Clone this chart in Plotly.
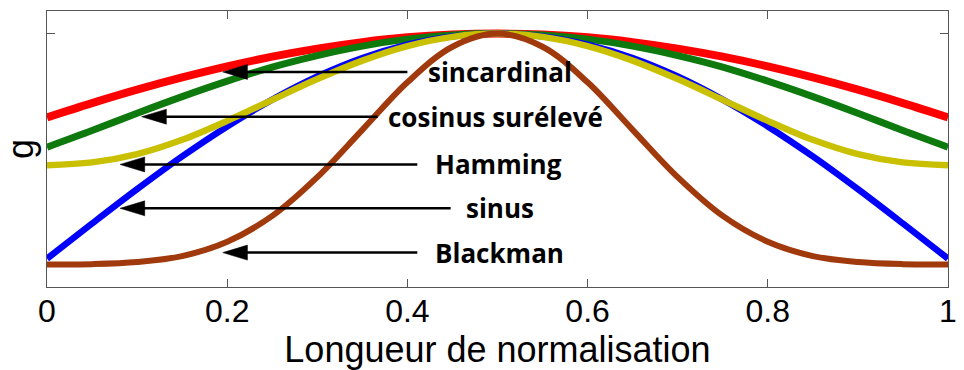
import plotly.graph_objects as go

# ---- data ----
x = [0.00, 0.05, 0.10, 0.15, 0.20, 0.25, 0.30, 0.35, 0.40, 0.45, 0.50,
     0.55, 0.60, 0.65, 0.70, 0.75, 0.80, 0.85, 0.90, 0.95, 1.00]

sincardinal = [0.637, 0.699, 0.757, 0.810, 0.858, 0.900, 0.935, 0.963, 0.984, 0.996, 1.000,
               0.996, 0.984, 0.963, 0.935, 0.900, 0.858, 0.810, 0.757, 0.699, 0.637]
cosinus_sureleve = [0.508, 0.580, 0.655, 0.727, 0.794, 0.855, 0.905, 0.946, 0.976, 0.994, 1.000,
                    0.994, 0.976, 0.946, 0.905, 0.855, 0.794, 0.727, 0.655, 0.580, 0.508]
hamming = [0.430, 0.442, 0.478, 0.540, 0.622, 0.713, 0.803, 0.883, 0.946, 0.986, 1.000,
           0.986, 0.946, 0.883, 0.803, 0.713, 0.622, 0.540, 0.478, 0.442, 0.430]
sinus = [0.025, 0.177, 0.326, 0.468, 0.598, 0.714, 0.814, 0.894, 0.952, 0.988, 1.000,
         0.988, 0.952, 0.894, 0.814, 0.714, 0.598, 0.468, 0.326, 0.177, 0.025]
blackman = [0.000, 0.001, 0.010, 0.036, 0.098, 0.210, 0.378, 0.583, 0.789, 0.943, 1.000,
            0.943, 0.789, 0.583, 0.378, 0.210, 0.098, 0.036, 0.010, 0.001, 0.000]

x_tick_vals = [0, 0.2, 0.4, 0.6, 0.8, 1]
x_tick_text = ["0", "0.2", "0.4", "0.6", "0.8", "1"]

labels = ["sincardinal", "cosinus surélevé", "Hamming", "sinus", "Blackman"]
arrow_tip_x = [0.195, 0.105, 0.081, 0.081, 0.195]
arrow_tail_x = [0.400, 0.367, 0.411, 0.448, 0.411]
arrow_y = [0.834, 0.640, 0.433, 0.243, 0.051]
label_x = [0.4205, 0.3766, 0.428, 0.4623, 0.428]

# ---- layout constants ----
W, H = 964, 370
M = dict(l=47, r=7, t=11, b=83)
X_RANGE = [0, 1]
Y_RANGE = [-0.098, 1.098]
px_per_x = (W - M["l"] - M["r"]) / (X_RANGE[1] - X_RANGE[0])
px_per_y = (H - M["t"] - M["b"]) / (Y_RANGE[1] - Y_RANGE[0])
HEAD_LEN = 25 / px_per_x
HEAD_HALF = 7.5 / px_per_y

fig = go.Figure()
series = [
    ("sincardinal", sincardinal, "#FF0000", 8),
    ("cosinus surélevé", cosinus_sureleve, "#0E7A0E", 7),
    ("sinus", sinus, "#0000FF", 6.5),
    ("Hamming", hamming, "#C8C000", 6.5),
    ("Blackman", blackman, "#A0390C", 6),
]
for name, ys, col, w in series:
    fig.add_trace(go.Scatter(x=x, y=ys, mode="lines", name=name,
                             line=dict(color=col, width=w, shape="spline", smoothing=1.0),
                             showlegend=False, hoverinfo="skip"))

shapes = []
annotations = []
for lab, tx, tl, yy, lx in zip(labels, arrow_tip_x, arrow_tail_x, arrow_y, label_x):
    shapes.append(dict(type="line", xref="x", yref="y", x0=tl, y0=yy, x1=tx + HEAD_LEN * 0.8, y1=yy,
                       line=dict(color="black", width=2.5)))
    shapes.append(dict(type="path", xref="x", yref="y",
                       path=f"M {tx} {yy} L {tx + HEAD_LEN} {yy + HEAD_HALF} L {tx + HEAD_LEN} {yy - HEAD_HALF} Z",
                       fillcolor="black", line=dict(color="black", width=0.5)))
    annotations.append(dict(x=lx, y=yy, xref="x", yref="y", text=lab, showarrow=False,
                            xanchor="left", yanchor="middle",
                            font=dict(family="Open Sans", size=26, color="black", weight=700)))

fig.update_layout(
    width=W, height=H, margin=M,
    paper_bgcolor="white", plot_bgcolor="white",
    shapes=shapes, annotations=annotations,
    font=dict(family="Liberation Sans, Arial, sans-serif", color="black"),
)
fig.update_xaxes(range=X_RANGE, tickvals=x_tick_vals, ticktext=x_tick_text,
                 ticks="inside", ticklen=8, tickcolor="#555", tickwidth=1,
                 showline=True, linecolor="#555", linewidth=1, mirror="ticks",
                 showgrid=False, zeroline=False, ticklabeloverflow="allow",
                 ticklabelstandoff=-4,
                 tickfont=dict(size=32, color="black"),
                 title=dict(text="Longueur de normalisation", font=dict(size=36, color="black"), standoff=0))
fig.update_yaxes(range=Y_RANGE, tickvals=[1], ticktext=[""],
                 ticks="inside", ticklen=8, tickcolor="#555", tickwidth=1,
                 showline=True, linecolor="#555", linewidth=1, mirror="ticks",
                 showgrid=False, zeroline=False, showticklabels=False,
                 title=dict(text="g", font=dict(size=36, color="black"), standoff=8))

fig.write_html("out.html")
